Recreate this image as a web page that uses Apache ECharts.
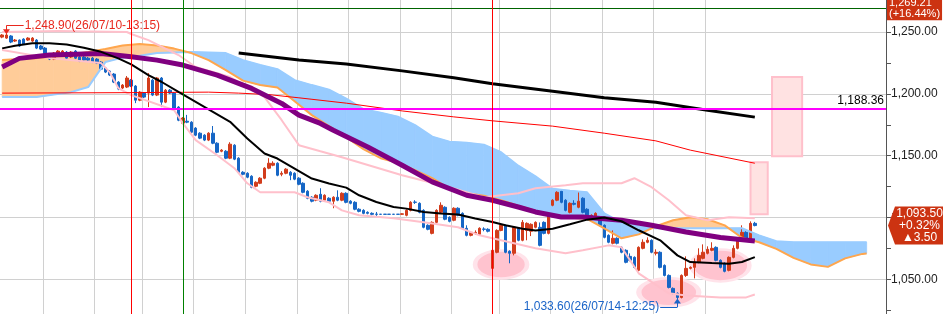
<!DOCTYPE html>
<html>
<head>
<meta charset="utf-8">
<script src="https://cdn.jsdelivr.net/npm/echarts@6/dist/echarts.min.js"></script>
<style>
  html, body { margin: 0; padding: 0; background: #fff; }
  #chart { width: 943px; height: 314px; }
</style>
</head>
<body>
<div id="chart"></div>
<script>
// 5분봉 206칸 (176봉 + 일목 선행 구간)
const categories = Array.from({length: 206}, (_, i) => String(i))

// [open, close, low, high]
const candles = [
  [1245.9,1247.6,1245.0,1248.3],[1245.1,1247.6,1244.5,1248.9],[1246.8,1241.9,1241.0,1247.5],[1242.7,1243.5,1242.0,1244.3],
  [1243.5,1238.7,1238.0,1244.0],[1244.3,1240.3,1239.5,1245.0],[1243.5,1245.1,1242.8,1245.8],[1242.7,1245.1,1242.0,1245.9],
  [1243.5,1237.0,1236.2,1244.3],[1238.7,1236.2,1235.4,1239.5],[1237.0,1232.2,1231.4,1237.9],[1232.2,1228.1,1227.3,1233.0],
  [1228.1,1233.0,1227.3,1233.8],[1231.4,1234.6,1230.6,1235.4],[1231.4,1234.6,1230.6,1235.4],[1233.8,1228.9,1228.1,1234.6],
  [1229.8,1233.8,1229.0,1234.6],[1234.6,1228.9,1228.1,1235.4],[1229.8,1226.5,1225.7,1230.6],[1229.8,1227.3,1226.5,1230.6],
  [1228.9,1227.3,1226.5,1229.8],[1228.9,1225.7,1224.9,1229.8],[1228.1,1224.9,1224.1,1228.9],[1225.7,1220.0,1219.2,1226.5],
  [1220.9,1217.6,1216.8,1221.7],[1218.4,1215.2,1214.4,1219.2],[1216.0,1209.5,1208.7,1216.8],[1209.5,1203.9,1203.0,1210.3],
  [1204.7,1207.1,1203.9,1207.9],[1205.5,1212.8,1204.7,1214.4],[1211.1,1206.3,1205.5,1212.0],[1206.3,1194.9,1192.5,1207.1],
  [1194.9,1201.4,1194.1,1202.2],[1200.6,1197.4,1196.6,1201.4],[1200.6,1212.8,1189.3,1216.8],[1211.1,1199.0,1198.2,1212.0],
  [1199.0,1212.8,1198.2,1213.6],[1212.8,1193.3,1189.3,1213.6],[1193.3,1203.0,1192.5,1203.9],[1203.0,1200.6,1199.8,1203.9],
  [1200.6,1188.5,1187.6,1201.4],[1189.3,1178.7,1177.9,1190.1],[1176.3,1180.4,1175.5,1181.2],[1177.9,1177.1,1176.3,1183.0],
  [1177.1,1169.0,1168.2,1177.9],[1172.3,1166.6,1165.8,1173.1],[1168.2,1164.2,1163.4,1169.0],[1166.6,1162.6,1161.8,1167.4],
  [1162.6,1168.2,1161.8,1169.0],[1168.2,1160.1,1159.3,1174.0],[1160.1,1152.8,1152.0,1160.9],[1153.6,1154.5,1152.8,1155.3],
  [1153.6,1148.0,1147.2,1154.5],[1148.0,1159.3,1147.2,1160.9],[1158.5,1147.2,1146.4,1159.3],[1148.0,1136.6,1135.8,1148.8],
  [1136.6,1135.0,1134.2,1137.5],[1135.8,1132.6,1131.8,1136.6],[1133.4,1124.5,1123.7,1134.2],[1125.3,1128.5,1124.5,1129.3],
  [1127.7,1131.8,1127.0,1132.6],[1131.8,1139.9,1131.0,1140.7],[1139.9,1143.9,1139.1,1148.0],[1142.3,1143.9,1141.5,1145.5],
  [1143.9,1134.2,1133.4,1144.7],[1135.0,1135.8,1133.4,1137.5],[1135.8,1139.1,1135.0,1139.9],[1136.6,1134.2,1130.2,1137.5],
  [1135.8,1131.0,1130.2,1136.6],[1131.8,1126.9,1126.1,1132.6],[1127.7,1120.4,1119.6,1128.5],[1121.3,1115.6,1114.8,1122.1],
  [1116.4,1113.2,1112.3,1117.2],[1114.0,1118.0,1113.2,1118.8],[1118.8,1113.2,1112.3,1123.7],[1114.0,1118.0,1113.2,1118.8],
  [1115.6,1113.2,1112.3,1116.4],[1113.2,1116.4,1107.5,1117.2],[1116.4,1114.0,1113.2,1122.0],[1114.0,1119.6,1113.2,1120.4],
  [1119.6,1112.3,1111.5,1120.4],[1113.2,1111.5,1110.7,1114.0],[1112.3,1106.7,1105.9,1113.2],[1106.7,1105.0,1104.2,1107.5],
  [1105.8,1103.4,1102.6,1106.7],[1104.2,1103.4,1102.6,1105.0],[1103.4,1102.6,1101.8,1104.2],[1102.8,1102.6,1100.5,1104.5],
  [1102.7,1102.6,1102.6,1102.7],[1102.7,1102.6,1102.6,1102.7],[1102.7,1102.6,1102.6,1102.7],[1102.7,1102.6,1102.6,1102.7],
  [1102.7,1102.6,1102.6,1102.7],[1102.6,1103.0,1102.2,1103.4],[1101.8,1105.8,1101.0,1106.7],[1105.8,1112.3,1105.0,1113.2],
  [1112.5,1112.3,1111.0,1114.0],[1111.5,1104.2,1103.4,1112.3],[1105.8,1092.1,1091.3,1106.7],[1093.7,1090.5,1089.7,1094.5],
  [1087.2,1096.1,1086.4,1096.9],[1096.1,1105.8,1095.3,1106.7],[1104.2,1109.9,1103.4,1112.3],[1108.3,1098.6,1097.8,1109.1],
  [1100.2,1096.9,1096.1,1101.0],[1097.8,1107.5,1097.0,1108.3],[1107.5,1101.8,1101.0,1108.3],[1103.4,1091.3,1090.5,1104.2],
  [1091.3,1085.6,1084.8,1093.7],[1085.6,1088.0,1084.8,1088.9],[1087.2,1088.0,1086.0,1089.6],[1086.4,1091.3,1085.6,1092.1],
  [1090.7,1090.5,1088.9,1092.1],[1090.5,1088.9,1088.0,1091.3],[1058.9,1073.5,1058.1,1074.3],[1071.9,1089.6,1071.1,1090.5],
  [1089.6,1093.7,1088.9,1094.5],[1093.7,1071.9,1071.1,1094.5],[1072.7,1071.1,1063.0,1073.5],[1071.1,1092.1,1069.4,1092.9],
  [1091.3,1081.6,1080.8,1092.1],[1081.6,1096.1,1080.8,1098.0],[1089.6,1095.3,1081.6,1096.1],[1088.9,1094.5,1085.0,1095.3],
  [1092.1,1096.1,1091.3,1096.9],[1092.1,1077.5,1076.7,1096.0],[1096.1,1087.2,1086.4,1096.9],[1087.2,1103.4,1086.4,1104.2],
  [1109.9,1114.0,1109.1,1114.8],[1114.0,1120.4,1113.2,1121.3],[1121.3,1112.3,1111.5,1122.1],[1114.0,1105.8,1105.0,1114.8],
  [1104.2,1111.5,1103.4,1112.3],[1111.5,1110.7,1109.9,1114.0],[1108.3,1113.2,1107.5,1121.3],[1115.6,1104.2,1103.4,1116.4],
  [1106.7,1100.2,1099.4,1107.5],[1099.4,1101.8,1098.6,1102.6],[1100.2,1103.4,1099.4,1104.2],[1100.2,1093.7,1092.9,1101.0],
  [1093.7,1084.0,1083.2,1094.5],[1085.6,1080.0,1079.2,1086.4],[1079.2,1083.2,1078.3,1089.6],[1083.2,1079.2,1078.3,1084.0],
  [1075.9,1071.9,1071.1,1076.7],[1073.5,1063.8,1063.0,1074.3],[1068.6,1065.4,1064.6,1071.0],[1067.8,1059.7,1058.9,1068.6],
  [1057.3,1075.9,1056.5,1076.7],[1075.1,1080.0,1074.3,1082.4],[1080.0,1081.6,1079.2,1084.0],[1081.6,1071.9,1071.1,1082.4],
  [1071.1,1071.9,1069.4,1074.3],[1071.9,1059.7,1058.9,1072.7],[1061.3,1053.2,1052.4,1062.1],[1053.2,1043.5,1042.7,1054.0],
  [1042.7,1038.7,1037.9,1043.5],[1038.7,1035.4,1033.6,1039.5],[1035.4,1053.2,1034.6,1054.0],[1053.2,1058.9,1052.0,1068.6],
  [1058.9,1059.7,1058.1,1060.5],[1059.7,1063.8,1050.8,1067.0],[1063.8,1069.4,1063.0,1075.1],[1067.0,1071.9,1066.2,1078.3],
  [1071.1,1074.3,1070.2,1076.7],[1073.5,1075.1,1072.7,1080.0],[1075.9,1065.4,1064.6,1076.7],[1065.4,1059.7,1058.9,1066.2],
  [1063.0,1056.5,1055.7,1063.8],[1057.3,1067.8,1056.5,1068.6],[1067.8,1075.1,1067.0,1077.5],[1075.1,1083.2,1074.3,1084.0],
  [1082.4,1088.0,1081.6,1093.7],[1088.0,1082.4,1081.6,1088.9],[1082.4,1095.3,1081.6,1096.9],[1095.3,1093.5,1092.9,1096.5]
]

// 일목 구름: 선행스팬1(A), 선행스팬2(B)
const cloudIdx = [0,4,8,12,16,20,24,28,32,36,40,44,48,52,56,60,64,68,72,76,80,84,88,92,96,100,
  104,108,112,116,120,124,128,132,136,140,144,148,152,156,160,164,168,172,176,180,184,188,192,196,200,201]
const spanA = [1227.3,1228.1,1228.9,1230.2,1231.8,1233.8,1236.2,1239.1,1240.3,1239.1,1236.6,1233.0,1227.3,1219.2,
  1210.7,1207.1,1205.1,1194.1,1182.8,1173.9,1165.0,1155.3,1148.0,1144.3,1138.3,1131.8,1123.3,1119.6,1117.6,1114.0,
  1109.5,1105.5,1101.8,1099.8,1099.0,1091.3,1083.2,1086.4,1092.9,1097.8,1100.2,1098.6,1093.7,1083.6,1080.0,1074.7,
  1067.4,1062.1,1060.1,1067.0,1070.6,1071.0]
const spanB = [1197.4,1197.4,1197.4,1199.4,1201.4,1205.5,1225.7,1229.3,1230.9,1233.0,1233.4,1233.8,1233.4,1233.0,
  1227.3,1223.3,1220.0,1211.1,1207.1,1203.4,1196.2,1187.6,1184.8,1181.6,1174.7,1165.4,1161.3,1160.5,1158.9,1152.8,
  1141.9,1133.4,1123.3,1121.7,1120.4,1103.4,1096.1,1092.9,1091.3,1091.3,1091.3,1091.3,1091.3,1091.3,1085.6,1080.8,
  1080.0,1080.0,1080.0,1080.0,1080.0,1080.0]

// 이동평균 / 볼린저 [봉 번호, 값]
const maLong = [[55,1233.0],[69,1227.3],[80,1224.1],[93,1218.6],[105,1213.0],[114,1208.1],[128,1202.2],[140,1196.8],
  [152,1193.3],[164,1186.8],[175,1181.2]]
const maRed = [[0,1200.6],[30,1201.0],[48,1201.4],[55,1200.6],[62,1199.4],[69,1196.8],[80,1192.5],[93,1186.2],
  [105,1181.4],[114,1178.2],[128,1173.9],[140,1168.2],[152,1162.0],[160,1154.5],[175,1143.9]]
const maMid = [[0,1236.8],[3,1238.9],[7,1240.9],[11,1240.9],[15,1240.0],[19,1237.3],[23,1234.0],[27,1228.7],
  [30,1223.8],[34,1215.2],[37,1209.8],[41,1201.6],[45,1193.6],[49,1185.5],[53,1177.4],[57,1163.9],[61,1151.8],
  [64,1147.7],[68,1139.6],[72,1131.5],[76,1127.5],[80,1124.2],[83,1118.0],[87,1112.6],[91,1108.5],[94,1107.2],
  [98,1104.5],[102,1103.2],[106,1102.4],[110,1099.2],[114,1096.4],[117,1093.7],[121,1091.0],[124,1089.5],
  [128,1091.0],[132,1094.5],[136,1098.3],[140,1100.0],[144,1097.0],[148,1089.7],[153,1081.6],[157,1069.4],
  [160,1064.0],[165,1063.2],[169,1062.6],[172,1064.0],[175,1068.0]]
const maPurple = [[0,1221.7],[4,1228.7],[11,1231.4],[23,1232.7],[30,1230.0],[36,1227.3],[42,1223.3],[50,1215.2],
  [58,1204.4],[65,1192.3],[69,1182.8],[74,1176.1],[77,1170.6],[85,1157.1],[93,1142.3],[100,1128.8],[108,1118.0],
  [114,1114.0],[120,1108.5],[124,1104.5],[130,1100.4],[135,1100.4],[144,1097.8],[151,1093.7],[159,1088.3],
  [167,1083.8],[175,1081.0]]
const bandUpper = [[0,1250.0],[13,1250.8],[29,1250.0],[30,1248.4],[34,1243.5],[41,1231.4],[45,1221.7],[53,1213.6],
  [57,1205.5],[61,1197.4],[65,1178.7],[69,1158.5],[74,1153.6],[79,1148.8],[93,1134.2],[104,1124.5],[112,1116.4],
  [120,1119.6],[124,1123.7],[131,1126.1],[135,1127.7],[144,1127.7],[147,1131.8],[151,1124.5],[155,1114.0],
  [159,1101.8],[164,1097.8],[169,1100.2],[175,1099.4]]
const bandLower = [[0,1235.4],[11,1228.9],[23,1224.9],[25,1217.6],[27,1204.7],[30,1199.0],[40,1186.8],[42,1176.3],
  [45,1162.6],[50,1150.4],[54,1139.9],[57,1127.7],[60,1120.4],[68,1120.4],[71,1116.4],[76,1112.3],[79,1105.8],
  [83,1101.8],[91,1099.4],[98,1096.1],[106,1092.1],[111,1085.6],[116,1081.6],[124,1075.1],[131,1071.1],[135,1073.5],
  [141,1077.5],[144,1075.9],[148,1054.9],[155,1038.7],[159,1037.0],[167,1035.4],[173,1035.4],[175,1037.8]]

// 강조 영역
const ellipseCenters = [[116,1062.1],[155,1039.5],[167,1061.3]]
const ellipseRadii = [[26,14],[30,14],[29,16]]
const targetBoxes = [[174.4,177.9,1144.7,1102.6],[179,186.2,1213.6,1149.6]]

const gridTicks = [10,22,33,45,57,69,81,93,105,116,128,140,152,164]
// 세로 표시선 [봉 번호, 색]
const timeMarks = [[30, '#ff0000'], [42, '#008000'], [114, '#ff0000']]
const lastPrice = 1093.5

const UP = '#d23c1c', DOWN = '#1666c5'
const PEACH = '#ffcc99', SKY = '#99ccff'
const FONT = 'Liberation Sans'
const RED_TXT = '#e8281e', BLUE_TXT = '#1a64c8', TAG = '#cc3311'

const cloudSegments = cloudIdx.slice(1).map((x1, k) =>
  [cloudIdx[k], x1, spanA[k], spanA[k + 1], spanB[k], spanB[k + 1]])

function renderCloud(params, api) {
  const x0 = api.value(0), x1 = api.value(1)
  const a0 = api.value(2), a1 = api.value(3), b0 = api.value(4), b1 = api.value(5)
  const pt = (x, v) => api.coord([x, v])
  const poly = (pts, up) => ({
    type: 'polygon', shape: {points: pts},
    style: {fill: up ? PEACH : SKY, stroke: up ? PEACH : SKY, lineWidth: 0.8}
  })
  const d0 = a0 - b0, d1 = a1 - b1
  if (d0 * d1 >= 0) return poly([pt(x0, a0), pt(x1, a1), pt(x1, b1), pt(x0, b0)], d0 + d1 > 0)
  const t = d0 / (d0 - d1)
  const xc = x0 + t * (x1 - x0), vc = a0 + t * (a1 - a0)
  return {type: 'group', children: [
    poly([pt(x0, a0), pt(xc, vc), pt(x0, b0)], d0 > 0),
    poly([pt(xc, vc), pt(x1, a1), pt(x1, b1)], d1 > 0)
  ]}
}

function renderEllipse(params, api) {
  const c = api.coord([api.value(0), api.value(1)])
  const [rx, ry] = ellipseRadii[params.dataIndex]
  return {
    type: 'circle', x: c[0], y: c[1], scaleX: rx / ry,
    shape: {cx: 0, cy: 0, r: ry},
    style: {fill: '#ffc3cf', stroke: '#ffe3ea', lineWidth: 2.5}
  }
}

function renderBox(params, api) {
  const p0 = api.coord([api.value(0), api.value(2)])
  const p1 = api.coord([api.value(1), api.value(3)])
  return {
    type: 'rect',
    shape: {x: p0[0], y: p0[1], width: p1[0] - p0[0], height: p1[1] - p0[1]},
    style: {fill: '#ffe2e2', stroke: '#ffc0cb', lineWidth: 2}
  }
}

function renderTimeMark(params, api) {
  const top = api.coord([api.value(0), 1300]), bottom = api.coord([api.value(0), 1000])
  const x = Math.round(top[0]) + 0.5
  return {
    type: 'line', shape: {x1: x, y1: top[1], x2: x, y2: bottom[1]},
    style: {stroke: timeMarks[params.dataIndex][1], lineWidth: 1}
  }
}

// 현재가 꼬리표 왼쪽 화살표
function renderTagArrow(params, api) {
  const c = api.coord([api.value(0), api.value(1)])
  const x = c[0] + api.size([1, 0])[0] / 2
  return {
    type: 'polygon', shape: {points: [[x + 2, c[1]], [x + 9, c[1] - 19], [x + 9, c[1] + 19]]},
    style: {fill: TAG}
  }
}

const lineSeries = (data, color, width) => ({
  type: 'line', data, symbol: 'none', showSymbol: false, silent: true, animation: false,
  lineStyle: {color, width}, emphasis: {disabled: true}
})

// 표시선만 그리는 빈 시리즈
const markSeries = (lineStyle, data, extra = {}) => ({
  type: 'line', data: [], silent: true, animation: false,
  markLine: {silent: true, symbol: ['none', 'none'], animation: false, label: {show: false}, lineStyle, data},
  ...extra
})

const fmt = v => v.toLocaleString('en-US', {minimumFractionDigits: 2, maximumFractionDigits: 2})

const chart = echarts.init(document.getElementById('chart'))
chart.setOption({
  animation: false,
  textStyle: {fontFamily: FONT},
  grid: {left: 0, right: 57, top: -29.8, height: 371, containLabel: false, outerBoundsMode: 'none'},
  xAxis: {
    type: 'category', data: categories, boundaryGap: true,
    axisLine: {show: false}, axisTick: {show: false}, axisLabel: {show: false},
    splitLine: {show: true, interval: (i) => gridTicks.includes(i), lineStyle: {color: '#d0d0d0'}}
  },
  yAxis: {
    type: 'value', position: 'right', min: 1000, max: 1300, interval: 50,
    axisLine: {show: true, lineStyle: {color: '#555'}},
    axisTick: {show: true, length: 5, lineStyle: {color: '#555'}},
    minorTick: {show: true, splitNumber: 2, length: 5, lineStyle: {color: '#555'}},
    axisLabel: {formatter: fmt, color: '#222', fontSize: 12, margin: 5, fontFamily: FONT},
    splitLine: {lineStyle: {color: '#d0d0d0'}}
  },
  series: [
    {type: 'custom', renderItem: renderCloud, data: cloudSegments, encode: {x: [0, 1], y: [2, 3, 4, 5]}, silent: true},
    {type: 'custom', renderItem: renderEllipse, data: ellipseCenters, encode: {x: 0, y: 1}, silent: true},
    {type: 'custom', renderItem: renderBox, data: targetBoxes, encode: {x: [0, 1], y: [2, 3]}, silent: true},
    lineSeries(cloudIdx.map((x, k) => [x, spanB[k]]), SKY, 2),
    lineSeries(cloudIdx.map((x, k) => [x, spanA[k]]), '#ffa64d', 2),
    lineSeries(bandUpper, '#ffc0cb', 2),
    lineSeries(bandLower, '#ffc0cb', 2),
    lineSeries(maRed, '#ff0000', 1),
    lineSeries(maLong, '#000000', 3),
    lineSeries(maPurple, '#800080', 5),
    lineSeries(maMid, '#000000', 2),
    {
      type: 'candlestick', data: candles, barWidth: 3, silent: true,
      itemStyle: {color: UP, color0: DOWN, borderColor: UP, borderColor0: DOWN, borderWidth: 1}
    },
    {type: 'custom', renderItem: renderTimeMark, data: timeMarks.map(m => [m[0]]), encode: {x: 0},
      silent: true, clip: false, z: 20},
    {type: 'custom', renderItem: renderTagArrow, data: [[categories.length - 1, lastPrice]], encode: {x: 0, y: 1}, silent: true, clip: false},
    markSeries({color: '#ff00ff', width: 2, type: 'solid'}, [{yAxis: 1188.36,
      label: {show: true, position: 'insideEndTop', formatter: '1,188.36', color: '#000', fontSize: 12, distance: 2}}]),
    markSeries({color: '#006400', width: 1, type: 'solid'}, [{yAxis: 1269.21,
      label: {show: true, position: 'end', formatter: '1,269.21\n(+16.44%)', color: '#fff', fontSize: 11,
        lineHeight: 11, backgroundColor: TAG, padding: [1, 2], distance: 1}}]),
    markSeries({color: 'rgba(0,0,0,0)', width: 0}, [{yAxis: lastPrice,
      label: {show: true, position: 'end', distance: 9,
        formatter: '{a|1,093.50}\n{a|+0.32%}\n{a|▲3.50}',
        rich: {a: {width: 47, align: 'center', color: '#fff', fontSize: 12, lineHeight: 12, fontFamily: FONT}},
        backgroundColor: TAG, padding: [1, 3, 1, 1]}}]),
    markSeries({color: RED_TXT, width: 1, type: 'solid'}, [
      [{coord: [1, 1255.3], label: {show: true, position: 'end', formatter: '1,248.90(26/07/10-13:15)',
        color: RED_TXT, fontSize: 12, distance: 1}}, {coord: [5, 1255.3]}],
      [{coord: [1, 1255.3]}, {coord: [1, 1251.6]}]
    ], {markPoint: {silent: true, animation: false, label: {show: false}, data: [
      {coord: [1, 1250.3], symbol: 'triangle', symbolRotate: 180, symbolSize: [7, 5], itemStyle: {color: RED_TXT}}]}}),
    markSeries({color: BLUE_TXT, width: 1, type: 'solid'}, [
      [{coord: [157, 1027.6], label: {show: true, position: 'end', formatter: '1,033.60(26/07/14-12:25)',
        color: BLUE_TXT, fontSize: 12, distance: 1}}, {coord: [153, 1027.6]}],
      [{coord: [157, 1027.6]}, {coord: [157, 1031.8]}]
    ], {markPoint: {silent: true, animation: false, label: {show: false}, data: [
      {coord: [157, 1032.6], symbol: 'triangle', symbolSize: [7, 5], itemStyle: {color: BLUE_TXT}}]}})
  ]
})
</script>
</body>
</html>
